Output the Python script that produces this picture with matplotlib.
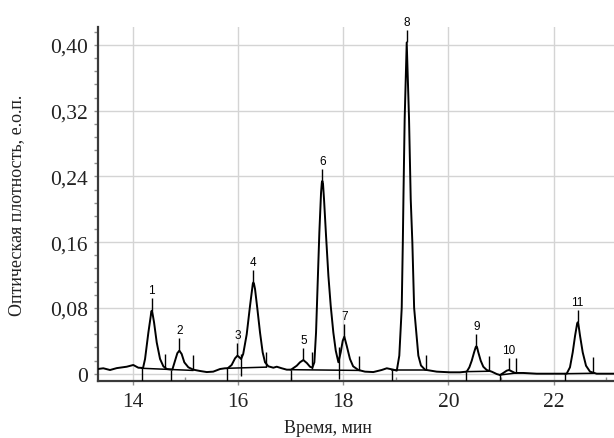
import matplotlib
matplotlib.use("Agg")
import matplotlib.pyplot as plt
from matplotlib.ticker import MultipleLocator, FuncFormatter
import numpy as np

# chromatogram trace (time, min ; optical density)
t_trace = [13.335, 13.44, 13.568, 13.696, 13.886, 14.01, 14.106, 14.196,
           14.234, 14.297, 14.342, 14.352, 14.361, 14.372, 14.405, 14.456, 14.519, 14.582, 14.646,
           14.753, 14.804, 14.848, 14.886, 14.93, 14.981, 15.057, 15.152,
           15.28, 15.407, 15.53, 15.66, 15.755, 15.806,
           15.88, 15.945, 15.99, 16.027, 16.06, 16.10, 16.167, 16.23, 16.274, 16.283, 16.293, 16.305,
           16.325, 16.37, 16.42, 16.47, 16.515, 16.578, 16.673, 16.738, 16.833, 16.928,
           17.01, 17.118, 17.18, 17.243, 17.31, 17.37, 17.415,
           17.453, 17.485, 17.517, 17.548, 17.58, 17.595, 17.605, 17.617, 17.637, 17.675, 17.72,
           17.764, 17.814, 17.86, 17.91, 17.954, 17.992, 18.023, 18.068, 18.13, 18.19,
           18.29, 18.416, 18.574, 18.733, 18.83, 18.955,
           19.02, 19.068, 19.114, 19.135, 19.148, 19.17, 19.209, 19.253, 19.285, 19.316,
           19.35, 19.43, 19.48, 19.557, 19.59, 19.78, 20.03, 20.22, 20.35,
           20.40, 20.445, 20.49, 20.522, 20.533, 20.545, 20.57, 20.616, 20.665, 20.73, 20.825, 20.92, 20.983,
           21.046, 21.11, 21.154, 21.205, 21.268, 21.426, 21.68, 21.93, 22.186,
           22.25, 22.313, 22.365, 22.41, 22.45, 22.46, 22.471, 22.504, 22.555, 22.618, 22.694, 22.82, 23.15]
v_trace = [0.0057, 0.0066, 0.0045, 0.0068, 0.0085, 0.0106, 0.0073, 0.0070,
           0.0179, 0.050, 0.070, 0.0755, 0.0766, 0.0748, 0.0625, 0.038, 0.018, 0.009, 0.0057,
           0.0050, 0.0158, 0.025, 0.028, 0.024, 0.0138, 0.0078, 0.0049,
           0.0033, 0.0020, 0.0025, 0.0057, 0.0066, 0.0066,
           0.0106, 0.0187, 0.0219, 0.0200, 0.0179, 0.024, 0.048, 0.0826, 0.105, 0.1095, 0.111, 0.1095,
           0.103, 0.0786, 0.050, 0.026, 0.0139, 0.0090, 0.0073, 0.0085, 0.0066, 0.0049,
           0.0049, 0.0097, 0.0139, 0.0166, 0.0130, 0.0085, 0.0073,
           0.0139, 0.050, 0.111, 0.172, 0.220, 0.2325, 0.2345, 0.2315, 0.212, 0.168, 0.119,
           0.0826, 0.050, 0.028, 0.0139, 0.026, 0.040, 0.045, 0.034, 0.0179, 0.0090,
           0.0045, 0.0025, 0.0020, 0.0045, 0.0066, 0.0049,
           0.0037, 0.022, 0.080, 0.160, 0.220, 0.310, 0.403, 0.310, 0.2126, 0.160,
           0.080, 0.022, 0.010, 0.0049, 0.0045, 0.0025, 0.0017, 0.0017, 0.0025,
           0.0078, 0.0158, 0.026, 0.0325, 0.0333, 0.0325, 0.026, 0.0158, 0.0085, 0.0045, 0.0025, -0.0004, -0.0016,
           0.0009, 0.0037, 0.0045, 0.0029, 0.0009, 0.0009, 0.0, 0.0, 0.0,
           0.0, 0.0078, 0.026, 0.0462, 0.0612, 0.0625, 0.0612, 0.0462, 0.026, 0.0097, 0.0025, 0.0, 0.0]

# peak apexes and their numbers
peak_t = [14.361, 14.886, 15.99, 16.293, 17.243, 17.605, 18.023, 19.209, 20.533, 21.154, 22.46]
peak_v = [0.0766, 0.028, 0.0219, 0.111, 0.0166, 0.2345, 0.045, 0.403, 0.0333, 0.0045, 0.0625]
peak_names = ["1", "2", "3", "4", "5", "6", "7", "8", "9", "10", "11"]

# integration baselines (start time, start value, end time, end value)
base_t0 = [14.17, 15.80, 17.00, 18.92, 20.34, 20.98, 22.22]
base_v0 = [0.0066, 0.0066, 0.0049, 0.0045, 0.0025, -0.0016, 0.0]
base_t1 = [15.14, 16.54, 18.31, 19.58, 20.77, 21.29, 22.75]
base_v1 = [0.0040, 0.0080, 0.0040, 0.0045, 0.0030, 0.0009, 0.0005]

# peak boundary marks (time, low end, high end)
mark_t = [14.17, 14.62, 14.73, 15.14, 15.80, 16.06, 16.54, 17.00, 17.40, 17.92,
          18.31, 18.92, 19.58, 20.34, 20.77, 20.98, 21.29, 22.22, 22.75]
mark_lo = [-0.0089, 0.0058, -0.0089, 0.0040, -0.0089, -0.0024, 0.0080, -0.0089, 0.0055, -0.0065,
           0.0040, -0.0089, 0.0045, -0.0089, 0.0028, -0.0089, 0.0010, -0.0089, 0.0005]
mark_hi = [0.0066, 0.0240, 0.0050, 0.0228, 0.0066, 0.0240, 0.0260, 0.0049, 0.0260, 0.0320,
           0.0220, 0.0045, 0.0227, 0.0025, 0.0210, -0.0016, 0.0187, 0.0, 0.0200]

y_ticks = [0, 0.08, 0.16, 0.24, 0.32, 0.40]
x_ticks = [14, 16, 18, 20, 22]

serif = "Liberation Serif"
sans = "Liberation Sans"

fig = plt.figure(figsize=(6.14, 4.39), dpi=100)
ax = fig.add_axes([0.1588, 0.1298, 0.8412, 0.8064])

ax.plot(t_trace, v_trace, color="black", lw=1.4, zorder=3)
for a, b, c, d in zip(base_t0, base_v0, base_t1, base_v1):
    ax.plot([a, c], [b, d], color="black", lw=1.1, zorder=3)
ax.vlines(mark_t, mark_lo, mark_hi, color="black", lw=1.0, zorder=3)

# apex marks and labels
label_step = 0.015
ax.vlines(peak_t, peak_v, np.array(peak_v) + label_step, color="black", lw=1.0, zorder=3)
for t, v, name in zip(peak_t, peak_v, peak_names):
    ax.annotate(name, (t, v + label_step), xytext=(0, 1.5), textcoords="offset points",
                ha="center", va="bottom", fontsize=8.5, family=sans, zorder=4,
                annotation_clip=False)

ax.set_xlim(13.33, 23.15)
ax.set_ylim(-0.0089, 0.4218)

ax.set_xticks(x_ticks)
ax.set_yticks(y_ticks)
ax.xaxis.set_minor_locator(MultipleLocator(1))
ax.yaxis.set_minor_locator(MultipleLocator(0.016))
ax.yaxis.set_major_formatter(FuncFormatter(lambda v, p: "0" if v == 0 else f"{v:.2f}".replace(".", ",")))

ax.grid(True, which="major", color="#d4d4d4", lw=1.0, zorder=0)
ax.set_axisbelow(True)

for side in ["top", "right"]:
    ax.spines[side].set_visible(False)
for side in ["left", "bottom"]:
    ax.spines[side].set_color("#3a3a3a")
    ax.spines[side].set_linewidth(1.6)

ax.tick_params(axis="y", which="major", direction="out", length=3, width=1, color="#909090",
               pad=4, labelsize=15.5)
ax.tick_params(axis="y", which="minor", direction="out", length=3, width=1, color="#909090")
ax.tick_params(axis="x", which="major", direction="out", length=3, width=1, color="#909090",
               pad=5, labelsize=15.5)
ax.tick_params(axis="x", which="minor", direction="in", length=3, width=1, color="#909090")
for lab in ax.get_xticklabels() + ax.get_yticklabels():
    lab.set_family(serif)
    lab.set_color("#222222")

ax.set_xlabel("Время, мин", family=serif, fontsize=13, color="#222222")
ax.set_ylabel("Оптическая плотность, е.о.п.", family=serif, fontsize=13, color="#222222")
ax.xaxis.set_label_coords(0.446, -0.108)
ax.yaxis.set_label_coords(-0.140, 0.5)

fig.savefig("out.png", dpi=100)
